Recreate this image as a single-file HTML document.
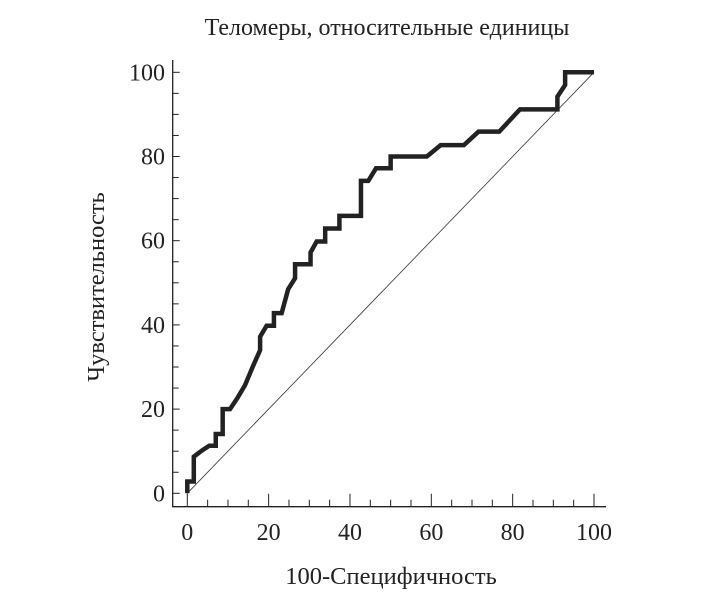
<!DOCTYPE html>
<html><head><meta charset="utf-8"><style>
body{margin:0;background:#fff;}
svg text{font-family:"Liberation Serif","DejaVu Serif",serif;fill:#222;}
</style></head><body>
<svg id="c" width="718" height="598" viewBox="0 0 718 598">
<text x="387" y="35" text-anchor="middle" font-size="24">Теломеры, относительные единицы</text>
<text x="391" y="584" text-anchor="middle" font-size="24.5">100-Специфичность</text>
<text transform="translate(104,287) rotate(-90)" text-anchor="middle" font-size="24.5">Чувствительность</text>
<g id="axes"></g>
<line id="diag" stroke="#333" stroke-width="0.8"></line>
<polyline id="roc" fill="none" stroke="#222" stroke-width="4.5" stroke-linejoin="miter"></polyline>
</svg>
<script>
const fpr=[0,0,1.6,1.6,3.5,5.4,7.0,7.0,8.7,8.7,10.5,12.3,14.2,16.1,17.9,17.9,19.5,21.3,21.3,23.2,24.8,26.5,26.5,30.3,30.3,31.8,33.9,33.9,37.4,37.4,42.7,42.7,44.5,46.4,50,50,58.9,62.3,68,71.6,76.7,81.8,91,91,92.9,92.9,100];
const tpr=[0,2.8,2.8,8.7,10.1,11.3,11.3,14.1,14.1,20,20,22.6,25.7,30.1,34,37.2,39.8,39.8,42.8,42.8,48.5,51.1,54.4,54.4,57.2,59.8,59.8,62.9,62.9,65.9,65.9,74.2,74.2,77.2,77.2,80,80,82.7,82.7,85.9,85.9,91.2,91.2,94.2,97,100,100];
const xTicks=[0,20,40,60,80,100];
const yTicks=[0,20,40,60,80,100];
const X=v=>187.3+v*4.067, Y=v=>493.3-v*4.21;
const ns="http://www.w3.org/2000/svg";
const ax=document.getElementById('axes');
function mk(tag,attrs,parent){const e=document.createElementNS(ns,tag);for(const k in attrs)e.setAttribute(k,attrs[k]);parent.appendChild(e);return e;}
let l=mk('line',{x1:172.7,y1:60,x2:172.7,y2:507,stroke:'#222','stroke-width':1.3},ax);


l=mk('line',{x1:172,y1:506.7,x2:606,y2:506.7,stroke:'#222','stroke-width':1.3},ax);


for(let v=0;v<=100;v+=5){
  const major=v%20===0;
  let t=mk('line',{x1:172.7,x2:172.7+(major?7:6),y1:Y(v),y2:Y(v),stroke:'#222','stroke-width':1},ax);
  
  
  t=mk('line',{x1:X(v),x2:X(v),y1:506.7,y2:506.7-(major?13:7),stroke:'#222','stroke-width':1},ax);
  
  
}
yTicks.forEach(v=>{const t=mk('text',{x:165,y:Y(v)+8,'text-anchor':'end','font-size':24},ax);t.textContent=v;

});
xTicks.forEach(v=>{const t=mk('text',{x:X(v),y:540,'text-anchor':'middle','font-size':24},ax);t.textContent=v;

});
const d=document.getElementById('diag');
d.setAttribute('x1',X(0));d.setAttribute('y1',Y(0));d.setAttribute('x2',X(100));d.setAttribute('y2',Y(100));
document.getElementById('roc').setAttribute('points',fpr.map((v,i)=>X(v)+','+Y(tpr[i])).join(' '));
</script>
</body></html>
